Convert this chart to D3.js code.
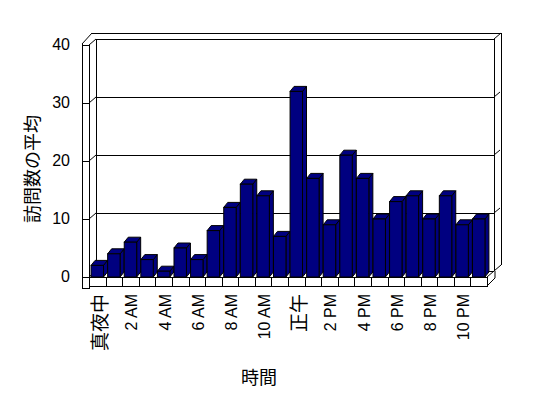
<html>
<head>
<meta charset="utf-8">
<script src="https://cdn.jsdelivr.net/npm/d3@7"></script>
<style>
body { margin: 0; background: #fff; }
.tick-text { font: 16px "Liberation Sans", Arial, sans-serif; fill: #000; }
.cjk { font-family: "Noto Sans CJK JP", sans-serif; }
.edge { fill: none; stroke: #000; stroke-width: 1; shape-rendering: crispEdges; }
.diag { fill: none; stroke: #000; stroke-width: 1; }
.bar { fill: #000080; stroke: #000; stroke-width: 1; stroke-linejoin: miter; }
</style>
</head>
<body>
<div id="chart"></div>
<script>
// hours of the day
var hours = ["真夜中", "1 AM", "2 AM", "3 AM", "4 AM", "5 AM", "6 AM", "7 AM", "8 AM", "9 AM", "10 AM", "11 AM",
             "正午", "1 PM", "2 PM", "3 PM", "4 PM", "5 PM", "6 PM", "7 PM", "8 PM", "9 PM", "10 PM", "11 PM"];
// average visits per hour
var visits = [2, 4, 6, 3, 1, 5, 3, 8, 12, 16, 14, 7, 32, 17, 9, 21, 17, 10, 13, 14, 10, 14, 9, 10];
var yTicks = [0, 10, 20, 30, 40];
var yTitle = "訪問数の平均";
var xTitle = "時間";

var W = 548, H = 398;
var wall = {dx: 7, dy: -6};   // floor/wall depth
var bar3d = {dx: 4, dy: -5};  // bar depth

var x = d3.scaleBand().domain(hours).range([89, 487]).paddingInner(0.25).paddingOuter(0.125);
var y = d3.scaleLinear().domain([0, 40]).range([277, 45]);
var x0 = 89, x1 = 487, step = x.step();

var svg = d3.select("#chart").append("svg").attr("width", W).attr("height", H);
svg.append("rect").attr("width", W).attr("height", H).attr("fill", "#fff");

var bx0 = x0 + wall.dx, bx1 = x1 + wall.dx;
var wTop = y(40) + wall.dy, wBot = y(0) + wall.dy;

// back wall
svg.append("path").attr("class", "edge")
  .attr("d", "M" + bx0 + "," + wBot + "V" + wTop + "H" + bx1 + "V" + wBot);
svg.append("path").attr("class", "edge")
  .attr("d", "M" + (bx0 - 4) + "," + (wTop - 6) + "H" + (bx1 + 7) + "V" + (wBot - 6));
svg.append("path").attr("class", "diag")
  .attr("d", "M" + bx1 + "," + wTop + "L" + (bx1 + 7) + "," + (wTop - 6) +
             "M" + bx1 + "," + wBot + "L" + (bx1 + 7) + "," + (wBot - 6));

// gridlines + ticks on the left wall
yTicks.forEach(function(v) {
  var yf = y(v), yb = y(v) + wall.dy;
  svg.append("path").attr("class", "edge")
    .attr("d", "M" + (x0 - 7) + "," + yf + "H" + x0 + (v < 40 ? "M" + bx0 + "," + yb + "H" + bx1 : ""));
  svg.append("path").attr("class", "diag")
    .attr("d", "M" + x0 + "," + yf + "L" + bx0 + "," + yb +
               (v > 0 && v < 40 ? "M" + bx1 + "," + yb + "L" + (bx1 + 6) + "," + (yb - 5) : ""));
});

// left wall
svg.append("path").attr("class", "edge")
  .attr("d", "M" + (x0 - 7) + "," + (y(0) + 11) + "V" + (y(40) - 1) +
             "M" + x0 + "," + (y(0) + 11) + "V" + y(40));
svg.append("path").attr("class", "diag")
  .attr("d", "M" + (x0 - 7) + "," + (y(40) - 1) + "L" + (bx0 - 4) + "," + (wTop - 6));

// floor front face with category dividers
var fy0 = y(0), fy1 = y(0) + 9;
svg.append("path").attr("class", "edge")
  .attr("d", "M" + (x0 - 7) + "," + (fy1 + 2) + "H" + x0 + "V" + fy1 + "H" + x1 + "V" + fy0 + "H" + x0);
svg.append("path").attr("class", "diag")
  .attr("d", "M" + x1 + "," + fy1 + "L" + (bx1 + 1) + "," + (fy1 - 8) + "V" + wBot +
             "M" + x1 + "," + fy0 + "L" + bx1 + "," + wBot);
svg.append("g").selectAll("line").data(d3.range(1, hours.length)).join("line")
  .attr("class", "edge")
  .attr("x1", function(i) { return Math.round(x0 + i * step) + 0.5; })
  .attr("x2", function(i) { return Math.round(x0 + i * step) + 0.5; })
  .attr("y1", fy0).attr("y2", fy1);

// bars
var bars = svg.append("g").selectAll("g").data(hours).join("g");
bars.each(function(h, i) {
  var g = d3.select(this);
  var l = x(h), r = x(h) + x.bandwidth(), t = y(visits[i]), b = y(0);
  var dx = bar3d.dx, dy = bar3d.dy;
  g.append("path").attr("class", "bar")
    .attr("d", "M" + r + "," + b + "L" + (r + dx) + "," + (b + dy) + "L" + (r + dx) + "," + (t + dy) + "L" + r + "," + t + "Z");
  g.append("path").attr("class", "bar")
    .attr("d", "M" + l + "," + t + "L" + (l + dx) + "," + (t + dy) + "L" + (r + dx) + "," + (t + dy) + "L" + r + "," + t + "Z");
  g.append("rect").attr("class", "bar")
    .attr("x", l).attr("y", t).attr("width", x.bandwidth()).attr("height", b - t);
});

// y tick labels
svg.append("g").selectAll("text").data(yTicks).join("text")
  .attr("class", "tick-text")
  .attr("x", 70).attr("y", function(v) { return y(v) - 1; })
  .attr("text-anchor", "end").attr("dominant-baseline", "central")
  .text(function(v) { return v; });

// x tick labels, every other hour
var shown = hours.filter(function(h, i) { return i % 2 === 0; });
svg.append("g").selectAll("text").data(shown).join("text")
  .attr("class", function(h) { return /[^\x00-\x7f]/.test(h) ? "tick-text cjk" : "tick-text"; })
  .style("font-size", function(h) { return /[^\x00-\x7f]/.test(h) ? "19px" : "16px"; })
  .attr("text-anchor", "end").attr("dominant-baseline", "central")
  .attr("transform", function(h) {
    return "translate(" + (x(h) + x.bandwidth() / 2 + 1.5) + ",294) rotate(-90)";
  })
  .text(function(h) { return h; });

// axis titles
svg.append("text").attr("class", "tick-text cjk").style("font-size", "18px")
  .attr("text-anchor", "middle").attr("dominant-baseline", "central")
  .attr("transform", "translate(31,169) rotate(-90)")
  .text(yTitle);
svg.append("text").attr("class", "tick-text cjk").style("font-size", "18px")
  .attr("text-anchor", "middle").attr("dominant-baseline", "central")
  .attr("x", 259).attr("y", 376)
  .text(xTitle);
</script>
</body>
</html>
